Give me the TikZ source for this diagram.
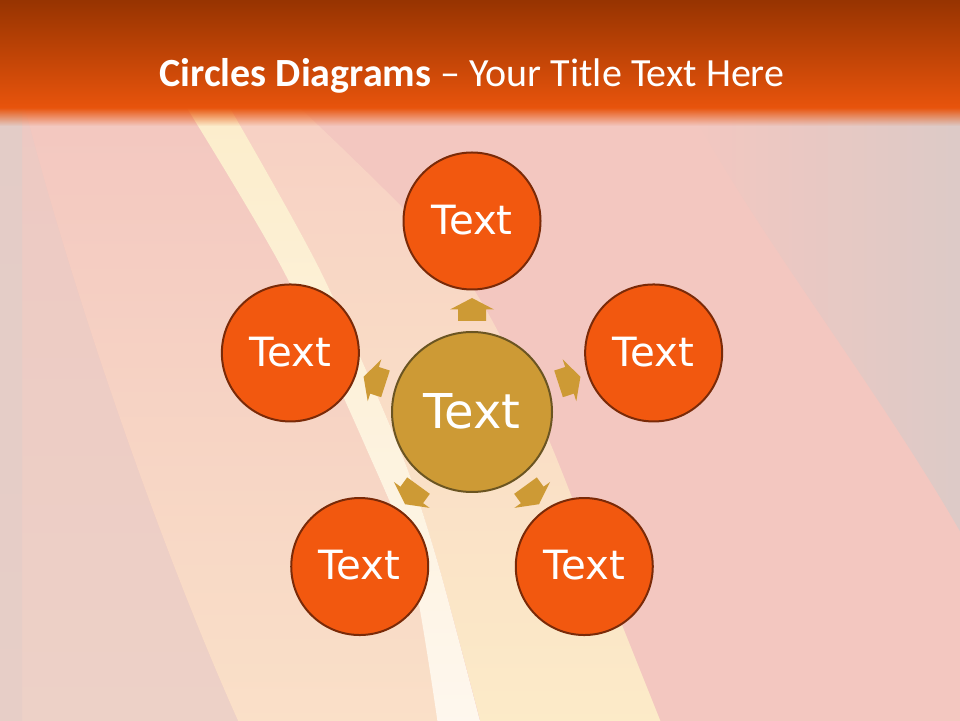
\documentclass[tikz,border=0pt]{standalone}
\usepackage{fontspec}
\setmainfont{Carlito}
\newfontfamily\dvfont{DejaVu Sans}
\usetikzlibrary{calc,fadings}
\definecolor{bgpink}{HTML}{F3C7C0}
\definecolor{bggray}{HTML}{DCCAC7}
\definecolor{leftgray}{HTML}{EDD1C7}
\definecolor{stripgray}{HTML}{E3CCC7}
\definecolor{peach}{HTML}{FAE0C8}
\definecolor{peachpink}{HTML}{F7D0C4}
\definecolor{cream}{HTML}{FCEBC8}
\definecolor{streaktop}{HTML}{FCEDCB}
\definecolor{streakbot}{HTML}{FEF7EE}
\definecolor{bardark}{HTML}{933200}
\definecolor{barorange}{HTML}{E8540C}
\definecolor{outerfill}{HTML}{F2580F}
\definecolor{outerline}{HTML}{7A2A08}
\definecolor{goldfill}{HTML}{CD9A35}
\definecolor{goldline}{HTML}{6B5522}
\tikzfading[name=fadedown, top color=transparent!0, bottom color=transparent!100]
\tikzset{
  outercirc/.style={circle, draw=outerline, line width=2pt, fill=outerfill,
    minimum size=137pt, inner sep=0pt, text=white,
    font=\dvfont\fontsize{40.3}{44}\selectfont, text depth=0.25em},
  centercirc/.style={circle, draw=goldline, line width=2pt, fill=goldfill,
    minimum size=160pt, inner sep=0pt, text=white,
    font=\dvfont\fontsize{48}{52}\selectfont, text depth=0.18em},
  blockarr/.style={fill=goldfill}
}
\begin{document}
\begin{tikzpicture}[x=1pt,y=1pt]
\useasboundingbox (0,0) rectangle (960,720);
% background
\fill[bgpink] (-5,-5) rectangle (965,725);
\shade[left color=bgpink, right color=bggray]
  (690,612) -- (965,612) -- (965,180) .. controls (880,330) and (760,480) .. (690,612) -- cycle;
\shade[top color=bgpink!60!stripgray, bottom color=leftgray]
  (-5,612) -- (25,612) .. controls (80,400) and (170,150) .. (240,-5) -- (-5,-5) -- cycle;
\shade[top color=stripgray, bottom color=stripgray!60!leftgray] (-5,-5) rectangle (22,612);
\shade[top color=bgpink, bottom color=peach]
  (25,612) .. controls (80,400) and (170,150) .. (240,-5) -- (440,-5)
  -- plot[smooth] coordinates {(438,0) (410,160) (367,270) (283,450) (187,612)} -- cycle;
\shade[top color=peachpink, bottom color=cream]
  (230,612) -- (300,612) -- plot[smooth] coordinates {(300,612) (460,450) (540,300) (600,150) (662,-5)}
  -- (480,-5) -- plot[smooth] coordinates {(480,0) (437,160) (400,270) (320,450) (230,612)} -- cycle;
\shade[top color=streaktop, bottom color=streakbot]
  plot[smooth] coordinates {(187,612) (283,450) (367,270) (410,160) (438,-5)}
  -- plot[smooth] coordinates {(481,-5) (437,160) (400,270) (320,450) (230,612)} -- cycle;
% title bar
\shade[top color=bardark, bottom color=barorange] (-5,612) rectangle (965,725);
\fill[barorange, path fading=fadedown] (-5,594) rectangle (965,612.5);
\node[text=white, font=\fontsize{40}{44}\selectfont, anchor=base] (title) at (472,633)
  {\textbf{Circles Diagrams} – Your Title Text Here};
% diagram
\node[centercirc] (c) at (472,308) {Text};
\foreach \a/\n in {90/1, 18/2, -54/3, -126/4, 162/5} {
  \node[outercirc] (o\n) at ($(c)+(\a:191)$) {Text};
  \begin{scope}[shift={(c)}, rotate=\a]
    \fill[blockarr] (91,-14) -- (102.5,-14) -- (102.5,-22) -- (114,0)
      -- (102.5,22) -- (102.5,14) -- (91,14) -- cycle;
  \end{scope}
}
\end{tikzpicture}
\end{document}
